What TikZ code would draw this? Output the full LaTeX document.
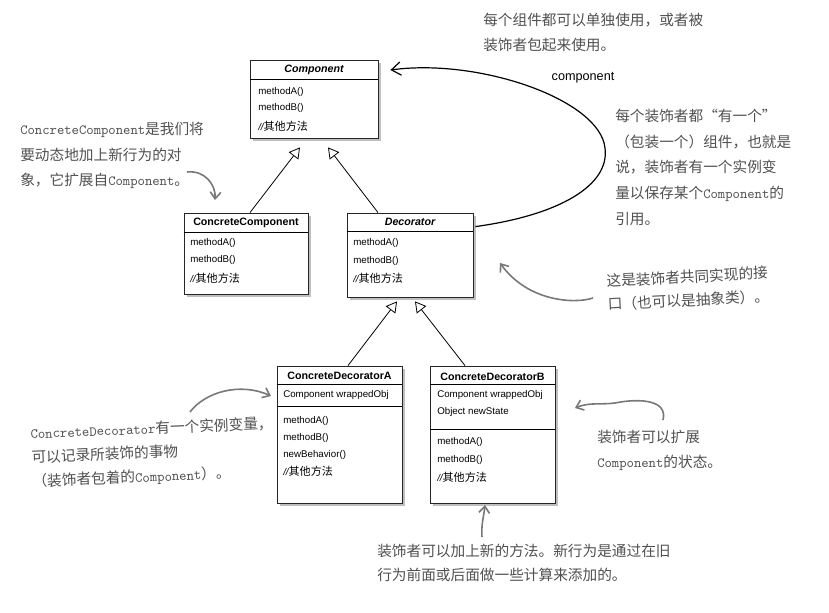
\documentclass[tikz,border=0pt]{standalone}
\usepackage{fontspec}
\setsansfont{Liberation Sans}
\newfontfamily\cjk{Noto Sans CJK SC}
\usepackage{tikz}
\usetikzlibrary{calc,positioning,fit,shadows,arrows.meta}
\definecolor{notegray}{RGB}{80,80,80}
\definecolor{pengray}{RGB}{120,120,120}
\newcommand{\mono}[1]{{\fontsize{10.5}{18}\selectfont\ttfamily #1}}
\newcommand{\other}{{\sffamily\itshape //}{\cjk\fontsize{8.3}{9}\selectfont 其他方法}}
\tikzset{
  classbox/.style={draw=black!85, line width=0.6pt, fill=white, inner sep=0pt,
    drop shadow={shadow xshift=2.5pt, shadow yshift=-2.5pt, opacity=0.5}},
  title/.style={inner sep=0pt, font=\sffamily\bfseries\fontsize{8}{9}\selectfont},
  item/.style={anchor=west, inner sep=0pt, font=\sffamily\fontsize{7.3}{9}\selectfont},
  note/.style={anchor=north west, align=left, inner sep=0pt, text=notegray,
    font=\cjk\fontsize{11}{18.5}\selectfont},
  pen/.style={draw=pengray, line width=1.2pt, -{Straight Barb[length=5pt,width=8pt]}},
  inherit/.style={draw, line width=0.6pt, -{Triangle[open,length=8pt,width=9pt]}},
}

\begin{document}
\begin{tikzpicture}[x=0.75pt,y=-0.75pt]
	%\draw[color=gray,step=10, help lines,opacity=0.3] (0,0) grid (829,613); %help grid
	\useasboundingbox (0,0) rectangle (829,613);
	% classes
	\node[classbox, fit={(250,60) (378,138)}] (comp) {};
	\draw[line width=0.6pt] (comp.west |- 0,79) -- (comp.east |- 0,79);
	\node[title] (compT) at (314,70) {\itshape Component};
	\node[item] at (258,92) {methodA()};
	\node[item] at (258,108) {methodB()};
	\node[item] at (258,126) {\other};

	\node[classbox, fit={(184,213) (308,294)}] (ccomp) {};
	\draw[line width=0.6pt] (ccomp.west |- 0,232) -- (ccomp.east |- 0,232);
	\node[title] (ccompT) at (246,223) {ConcreteComponent};
	\node[item] at (190,243) {methodA()};
	\node[item] at (190,260) {methodB()};
	\node[item] at (190,278) {\other};

	\node[classbox, fit={(347,213) (473,297)}] (dec) {};
	\draw[line width=0.6pt] (dec.west |- 0,231) -- (dec.east |- 0,231);
	\node[title] (decT) at (410,222) {\itshape Decorator};
	\node[item] at (353,243) {methodA()};
	\node[item] at (353,261) {methodB()};
	\node[item] at (353,278) {\other};

	\node[classbox, fit={(277,366) (402,503)}] (cda) {};
	\draw[line width=0.6pt] (cda.west |- 0,384) -- (cda.east |- 0,384);
	\draw[line width=0.6pt] (cda.west |- 0,406) -- (cda.east |- 0,406);
	\node[title] (cdaT) at (339.5,376) {ConcreteDecoratorA};
	\node[item] at (283,395) {Component wrappedObj};
	\node[item] at (283,421) {methodA()};
	\node[item] at (283,438) {methodB()};
	\node[item] at (283,455) {newBehavior()};
	\node[item] at (283,471) {\other};

	\node[classbox, fit={(430,366) (555,503)}] (cdb) {};
	\draw[line width=0.6pt] (cdb.west |- 0,384) -- (cdb.east |- 0,384);
	\draw[line width=0.6pt] (cdb.west |- 0,429) -- (cdb.east |- 0,429);
	\node[title] (cdbT) at (492.5,377) {ConcreteDecoratorB};
	\node[item] at (437,395) {Component wrappedObj};
	\node[item] at (437,412) {Object newState};
	\node[item] at (437,442) {methodA()};
	\node[item] at (437,460) {methodB()};
	\node[item] at (437,477) {\other};

	% inheritance
	\draw[inherit] ($(ccomp.north)+(4,0)$) -- ($(comp.south)+(-14,9)$);
	\draw[inherit] ($(dec.north)+(-32,0)$) -- ($(comp.south)+(14,9)$);
	\draw[inherit] ($(cda.north)+(8.5,0)$) -- ($(dec.south)+(-13,4)$);
	\draw[inherit] ($(cdb.north)+(-27.5,0)$) -- ($(dec.south)+(5,4)$);

	% has-a component
	\draw[line width=0.9pt, -{Straight Barb[length=7pt,width=10pt]}] ($(dec.north east)+(2,14)$)
		.. controls (560,215) and (610,185) .. (605,148)
		.. controls (600,100) and (480,58) .. ($(comp.east)+(12,-29)$);
	\node[font=\sffamily\fontsize{9.5}{11}\selectfont] (lbl) at (583,78) {component};

	% notes
	\node[note] (n1) at (483,13) {每个组件都可以单独使用，或者被\\装饰者包起来使用。};
	\node[note, font=\cjk\fontsize{11}{19.2}\selectfont] (n2) at (615,109) {每个装饰者都“有一个”\\（包装一个）组件，也就是\\说，装饰者有一个实例变\\量以保存某个\mono{Component}的\\引用。};
	\node[note, font=\cjk\fontsize{11}{19.2}\selectfont] (n3) at (20,122) {\mono{ConcreteComponent}是我们将\\要动态地加上新行为的对\\象，它扩展自\mono{Component}。};
	\node[note, rotate=3, font=\cjk\fontsize{11}{17.5}\selectfont] (n4) at (606,274) {这是装饰者共同实现的接\\口（也可以是抽象类）。};
	\node[note, rotate=2.4, font=\cjk\fontsize{11}{18}\selectfont] (n5) at (30,426) {\mono{ConcreteDecorator}有一个实例变量，\\可以记录所装饰的事物\\（装饰者包着的\mono{Component}）。};
	\node[note] (n6) at (597,430) {装饰者可以扩展\\\mono{Component}的状态。};
	\node[note, font=\cjk\fontsize{11}{18}\selectfont] (n7) at (377,544) {装饰者可以加上新的方法。新行为是通过在旧\\行为前面或后面做一些计算来添加的。};

	% pointers
	\coordinate (p1) at (187,172); \coordinate (q1) at (215,200);
	\draw[pen] (p1) .. controls (205,170) and (216,185) .. (q1);
	\coordinate (p2) at (593,298); \coordinate (q2) at (500,263);
	\draw[pen] (p2) .. controls (575,304) and (528,302) .. (q2);
	\coordinate (p3) at (190,412); \coordinate (q3) at (271,396);
	\draw[pen] (p3) .. controls (205,392) and (240,382) .. (q3);
	\coordinate (p4) at (663,420); \coordinate (q4) at (575,408);
	\draw[pen] (p4) .. controls (668,400) and (640,398) .. (615,403)
		.. controls (600,405) and (590,402) .. (q4);
	\coordinate (p5) at (482,537); \coordinate (q5) at (485,505);
	\draw[pen] (p5) .. controls (481,525) and (484,515) .. (q5);
\end{tikzpicture}
\end{document}
